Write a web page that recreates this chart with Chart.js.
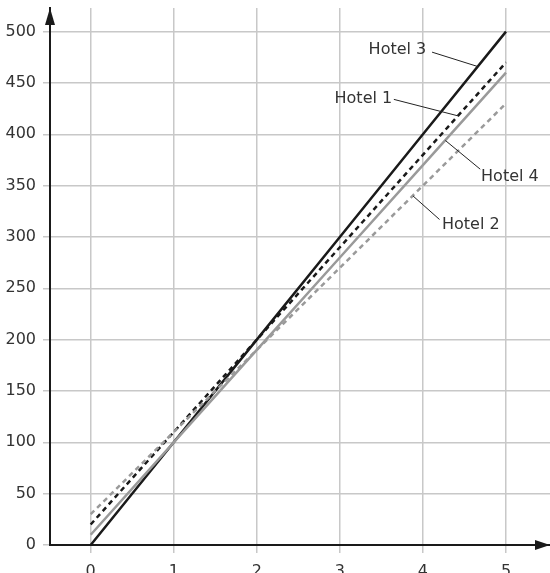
<!DOCTYPE html>
<html>
<head>
<meta charset="utf-8">
<script src="https://cdn.jsdelivr.net/npm/chart.js@4"></script>
<style>
  html, body { margin: 0; padding: 0; background: #fff; }
  #wrap { width: 550px; height: 573px; }
</style>
</head>
<body>
<div id="wrap"><canvas id="hotels"></canvas></div>
<script>
const DAYS = [0, 1, 2, 3, 4, 5];
const Y_TICKS = [0, 50, 100, 150, 200, 250, 300, 350, 400, 450, 500];

const HOTEL_1 = [20, 110, 200, 290, 380, 470];
const HOTEL_2 = [30, 110, 190, 270, 350, 430];
const HOTEL_3 = [0, 100, 200, 300, 400, 500];
const HOTEL_4 = [10, 100, 190, 280, 370, 460];

// label text, where it sits, and the short leader line to its curve (data units)
const CALLOUTS = [
  { text: "Hotel 3", x: 4.04, y: 482, align: "right", from: [4.11, 480], to: [4.66, 466] },
  { text: "Hotel 1", x: 3.63, y: 435, align: "right", from: [3.65, 434], to: [4.42, 418] },
  { text: "Hotel 4", x: 4.70, y: 359, align: "left", from: [4.27, 394], to: [4.69, 366] },
  { text: "Hotel 2", x: 4.23, y: 312, align: "left", from: [3.88, 340], to: [4.20, 317] },
];

const BLACK = "#1a1a1a";
const GREY = "#9a9a9a";
const FONT = { family: "DejaVu Sans", size: 16 };

const toPoints = (vals) => vals.map((v, i) => ({ x: DAYS[i], y: v }));

const callouts = {
  id: "callouts",
  afterDatasetsDraw(chart) {
    const { ctx, scales } = chart;
    const px = (x) => scales.x.getPixelForValue(x);
    const py = (y) => scales.y.getPixelForValue(y);
    ctx.save();
    ctx.font = `${FONT.size}px ${FONT.family}`;
    ctx.fillStyle = "#333";
    ctx.textBaseline = "middle";
    ctx.strokeStyle = "#222";
    ctx.lineWidth = 1;
    CALLOUTS.forEach((c) => {
      ctx.textAlign = c.align;
      ctx.fillText(c.text, px(c.x), py(c.y));
      ctx.beginPath();
      ctx.moveTo(px(c.from[0]), py(c.from[1]));
      ctx.lineTo(px(c.to[0]), py(c.to[1]));
      ctx.stroke();
    });
    ctx.restore();
  },
};

// arrow heads on both axes
const axisArrows = {
  id: "axisArrows",
  afterDraw(chart) {
    const { ctx, chartArea: a } = chart;
    ctx.save();
    ctx.fillStyle = BLACK;
    ctx.beginPath();
    ctx.moveTo(a.left, 8);
    ctx.lineTo(a.left - 5, 25);
    ctx.lineTo(a.left + 5, 25);
    ctx.closePath();
    ctx.fill();
    ctx.beginPath();
    ctx.moveTo(550, a.bottom);
    ctx.lineTo(535, a.bottom - 5);
    ctx.lineTo(535, a.bottom + 5);
    ctx.closePath();
    ctx.fill();
    ctx.restore();
  },
};

const line = (label, data, color, dash) => ({
  label,
  data: toPoints(data),
  borderColor: color,
  borderWidth: 2.5,
  borderDash: dash,
  pointRadius: 0,
  fill: false,
  clip: false,
});

new Chart(document.getElementById("hotels"), {
  type: "line",
  data: {
    datasets: [
      line("Hotel 2", HOTEL_2, GREY, [5, 4]),
      line("Hotel 4", HOTEL_4, GREY, []),
      line("Hotel 1", HOTEL_1, BLACK, [5, 4]),
      line("Hotel 3", HOTEL_3, BLACK, []),
    ],
  },
  options: {
    responsive: true,
    maintainAspectRatio: false,
    animation: false,
    layout: { padding: { top: 8, right: 0, left: 0, bottom: 0 } },
    plugins: { legend: { display: false }, tooltip: { enabled: false } },
    scales: {
      x: {
        type: "linear",
        min: -0.49,
        max: 5.53,
        afterBuildTicks: (s) => { s.ticks = DAYS.map((v) => ({ value: v })); },
        afterFit: (s) => { s.height = 28; s.paddingLeft = 0; s.paddingRight = 0; },
        grid: { color: "#c8c8c8", lineWidth: 1.5, tickLength: 8, drawTicks: true },
        border: { color: BLACK, width: 2 },
        ticks: { color: "#333", font: FONT, padding: 9, maxRotation: 0 },
      },
      y: {
        min: 0,
        max: 523,
        afterBuildTicks: (s) => { s.ticks = Y_TICKS.map((v) => ({ value: v })); },
        afterFit: (s) => { s.width = 50; s.paddingTop = 0; s.paddingBottom = 0; },
        grid: { color: "#c8c8c8", lineWidth: 1.5, tickLength: 7 },
        border: { color: BLACK, width: 2 },
        ticks: { color: "#333", font: FONT, padding: 7 },
      },
    },
  },
  plugins: [callouts, axisArrows],
});
</script>
</body>
</html>
